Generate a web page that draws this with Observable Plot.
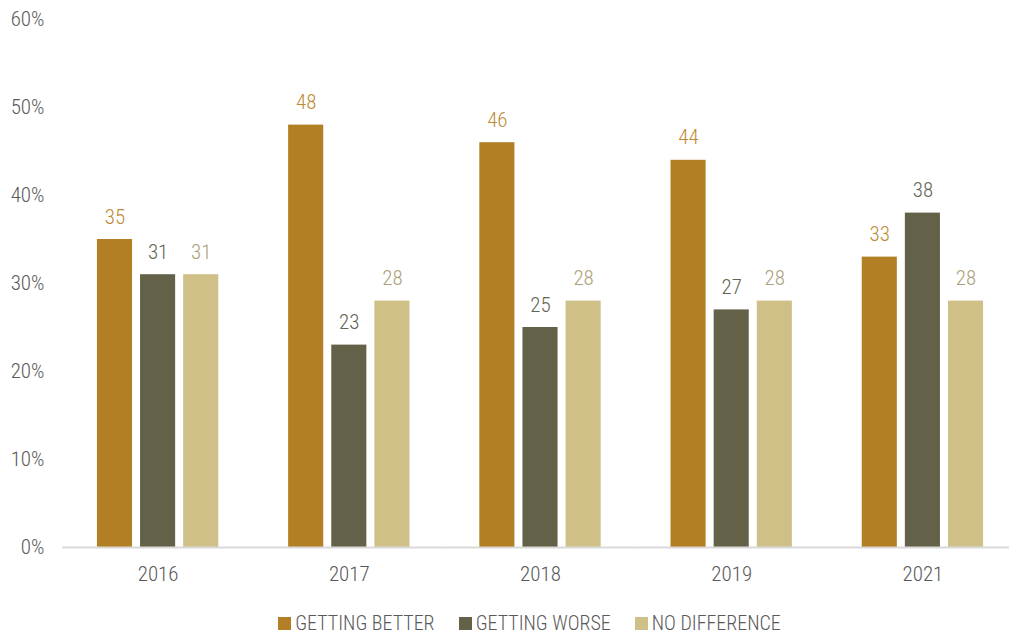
<!DOCTYPE html>
<html>
<head>
<meta charset="utf-8">
<script src="https://cdn.jsdelivr.net/npm/d3@7"></script>
<script src="https://cdn.jsdelivr.net/npm/@observablehq/plot@0.6"></script>
<style>
  body { margin: 0; background: #fff; }
  #chart { width: 1009px; }
  .legend { display: flex; justify-content: center; align-items: center; height: 30px; font-family: "Roboto Condensed", "Liberation Sans Narrow", "Roboto", sans-serif; font-stretch: condensed; font-weight: 300; font-size: 20px; color: #595959; padding-left: 50px; }
  .legend span.item { display: inline-flex; align-items: center; margin: 0 12px; }
  .legend span.sw { width: 13px; height: 13px; display: inline-block; margin-right: 4px; }
</style>
</head>
<body>
<div id="chart"></div>
<script>
const years = ["2016", "2017", "2018", "2019", "2021"];
const series = ["GETTING BETTER", "GETTING WORSE", "NO DIFFERENCE"];
const better = [35, 48, 46, 44, 33];
const worse = [31, 23, 25, 27, 38];
const noDiff = [31, 28, 28, 28, 28];
const barColors = ["#B27F25", "#636249", "#CFC088"];
const labelColors = ["#BC8A32", "#636353", "#ABA17A"];
const yTicks = [0, 10, 20, 30, 40, 50, 60];

const values = [better, worse, noDiff];
const data = [];
years.forEach((y, i) => series.forEach((s, j) => data.push({year: y, series: s, value: values[j][i]})));

const font = '"Roboto Condensed", "Liberation Sans Narrow", "Roboto", sans-serif';

const plot = Plot.plot({
  width: 1009,
  height: 608,
  marginTop: 19,
  marginBottom: 61,
  marginLeft: 65,
  marginRight: 0,
  style: {fontFamily: font, fontStretch: "condensed", fontWeight: 300, fontSize: "21px", color: "#595959", background: "#fff"},
  fx: {domain: years, range: [62, 1018], padding: 0, round: false, label: null, axis: null},
  x: {domain: series, paddingInner: 0.186, paddingOuter: 0.81, round: false, axis: null},
  y: {domain: [0, 60], label: null, ticks: yTicks, tickFormat: d => d + "%"},
  color: {domain: series, range: barColors},
  marks: [
    Plot.axisY({ticks: yTicks, tickFormat: d => d + "%", tickSize: 0, tickPadding: 18, label: null, fontSize: 21, fontWeight: 300, fill: "#595959"}),
    Plot.barY(data, {fx: "year", x: "series", y: "value", fill: "series"}),
    Plot.ruleY([0], {stroke: "#D9D9D9", strokeWidth: 2}),
    Plot.axisFx({anchor: "bottom", tickSize: 0, tickPadding: 19, label: null, fontSize: 21, fontWeight: 300, fill: "#595959"}),
    Plot.text(data, {fx: "year", x: "series", y: "value", text: d => String(d.value), lineAnchor: "bottom", dy: -16, fontSize: 21, fontWeight: 300, fill: d => labelColors[series.indexOf(d.series)]})
  ]
});
document.getElementById("chart").appendChild(plot);

const legend = document.createElement("div");
legend.className = "legend";
series.forEach((s, j) => {
  const item = document.createElement("span");
  item.className = "item";
  const sw = document.createElement("span");
  sw.className = "sw";
  sw.style.background = barColors[j];
  item.appendChild(sw);
  item.appendChild(document.createTextNode(s));
  legend.appendChild(item);
});
document.getElementById("chart").appendChild(legend);
</script>
</body>
</html>
